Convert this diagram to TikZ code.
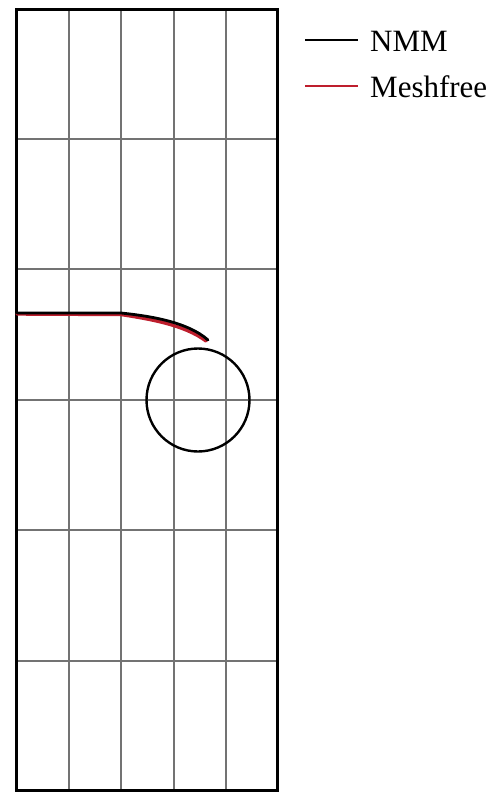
\documentclass[tikz,border=0pt]{standalone}
\usepackage{fontspec}
\setmainfont{Liberation Serif}
\begin{document}
\begin{tikzpicture}[x=1pt,y=-1pt,
  gridline/.style={draw=black!55,line width=1.4pt},
  border/.style={draw=black,line width=3pt},
  crack/.style={line width=3.4pt,line cap=round},
  legtext/.style={anchor=west,inner sep=0pt,font=\fontsize{31}{31}\selectfont}]
\useasboundingbox (0,0) rectangle (501,793);
% grid
\foreach \x in {69,121,174,226} \draw[gridline] (\x,9) -- (\x,790);
\foreach \y in {139,269,400,530,661} \draw[gridline] (16,\y) -- (277,\y);
\draw[border] (16,9) rectangle (277,790);
% hole
\node[draw,circle,line width=2.4pt,minimum size=103pt,inner sep=0pt] (hole) at (198,400) {};
% cracks
\coordinate (c0) at (17,313);
\coordinate (c1) at (121,313);
\draw[crack,draw={rgb,255:red,190;green,30;blue,45}] (17,314) -- (121,314.5) .. controls (150,319) and (185,325) .. (206,341);
\draw[crack,draw=black,line width=2.8pt] (c0) -- (c1) .. controls (150,316) and (188,322) .. (208,340);
% legend
\coordinate (l1a) at (305,40);
\coordinate (l1b) at (358,40);
\coordinate (l2a) at (305,86);
\coordinate (l2b) at (358,86);
\draw[line width=1.6pt] (l1a) -- (l1b);
\draw[line width=1.6pt,draw={rgb,255:red,190;green,30;blue,45}] (l2a) -- (l2b);
\node[legtext] (t1) at (370,41) {NMM};
\node[legtext] (t2) at (370,87) {Meshfree};
\end{tikzpicture}
\end{document}
